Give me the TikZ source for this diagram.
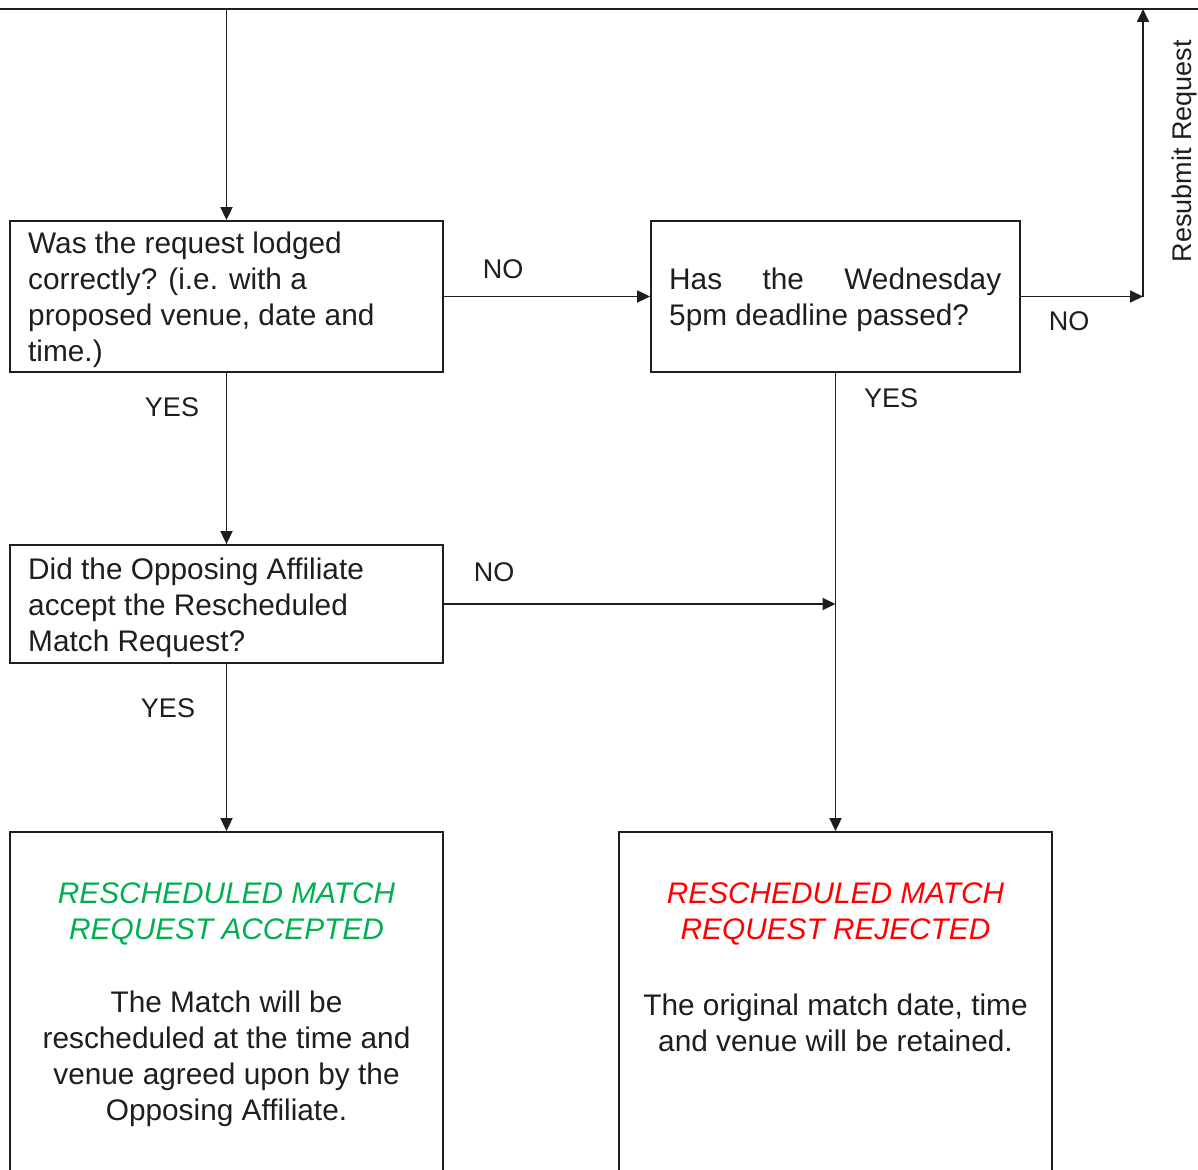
\documentclass[tikz,border=0pt]{standalone}
\usepackage{fontspec}
\setmainfont{Liberation Sans}
\usetikzlibrary{arrows.meta}
\definecolor{accgreen}{RGB}{0,176,80}
\definecolor{rejred}{RGB}{255,0,0}
\definecolor{inkgray}{RGB}{30,30,30}
\begin{document}
\begin{tikzpicture}[x=1pt,y=-1pt,
  box/.style={draw=inkgray, line width=1.8pt, rectangle, inner sep=0pt},
  plainline/.style={draw=inkgray, line width=1.8pt},
  conn/.style={draw=inkgray, line width=1.8pt, -{Triangle[length=13pt,width=12pt]}},
  lbl/.style={font=\fontsize{27}{32}\selectfont, inner sep=0pt, text=inkgray},
  btext/.style={font=\fontsize{29.8}{36}\selectfont, inner sep=0pt, text=inkgray},
  ttext/.style={font=\fontsize{29.8}{36}\selectfont\itshape, inner sep=0pt, align=center}]
\clip (0,0) rectangle (1198,1169);
% boxes
\node[box, minimum width=433pt, minimum height=151pt] (q1) at (226.5,296.5) {};
\node[box, minimum width=369pt, minimum height=151pt] (q2) at (835.5,296.5) {};
\node[box, minimum width=433pt, minimum height=118pt] (q3) at (226.5,604) {};
\node[box, minimum width=433pt, minimum height=368pt] (acc) at (226.5,1016) {};
\node[box, minimum width=433pt, minimum height=368pt] (rej) at (835.5,1016) {};
% box texts
\node[btext, align=left, anchor=west] (q1t) at (28,299.5) {Was the request lodged\\correctly? (i.e. with a\\proposed venue, date and\\time.)};
\node[btext, align=left, anchor=west] (q2t) at (669,300) {\hbox to 332pt{Has\hfill the\hfill Wednesday}\\5pm deadline passed?};
\node[btext, align=left, anchor=west] (q3t) at (28,607.5) {Did the Opposing Affiliate\\accept the Rescheduled\\Match Request?};
\node[ttext, text=accgreen] (acct) at (226.5,914) {RESCHEDULED MATCH\\REQUEST ACCEPTED};
\node[btext, align=center] (accb) at (226.5,1058.5) {The Match will be\\rescheduled at the time and\\venue agreed upon by the\\Opposing Affiliate.};
\node[ttext, text=rejred] (rejt) at (835.5,914) {RESCHEDULED MATCH\\REQUEST REJECTED};
\node[btext, align=center] (rejb) at (835.5,1022.5) {The original match date, time\\and venue will be retained.};
% coordinates
\coordinate (tl) at (0,9);
\coordinate (tr) at (1198,9);
\coordinate (topq1) at (226.5,9);
\coordinate (join) at (835.5,604);
\coordinate (rs) at (1143,296.5);
\coordinate (rt) at (1143,9);
% connectors
\draw[plainline] (tl) -- (tr);
\draw[conn] (topq1) -- (q1.north);
\draw[conn] (q1.east) -- (q2.west);
\draw[conn] (q1.south) -- (q3.north);
\draw[conn] (q3.east) -- (join);
\draw[conn] (q2.south) -- (rej.north);
\draw[conn] (q3.south) -- (acc.north);
\draw[conn] (q2.east) -- (rs);
\draw[conn] (rs) -- (rt);
% labels
\node[lbl] (l1) at (503,269) {NO};
\node[lbl] (l2) at (172,407) {YES};
\node[lbl] (l3) at (1069,321) {NO};
\node[lbl] (l4) at (891,398) {YES};
\node[lbl] (l5) at (494,572) {NO};
\node[lbl] (l6) at (168,708) {YES};
\node[lbl, rotate=90] (l7) at (1184,151) {Resubmit Request};
\end{tikzpicture}
\end{document}
